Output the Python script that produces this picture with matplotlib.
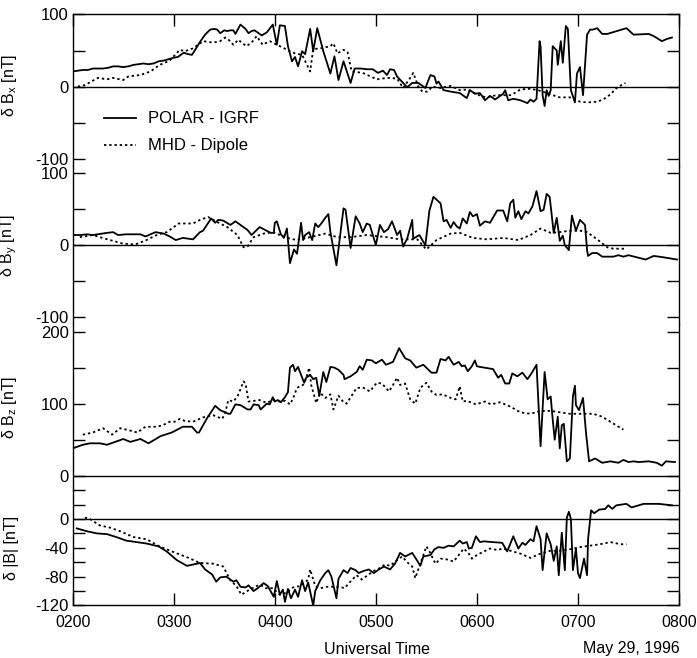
import matplotlib.pyplot as plt
import numpy as np

# time in decimal hours UT, field perturbations in nT
bx_t = [2.00, 2.05, 2.10, 2.15, 2.20, 2.25, 2.30, 2.35, 2.40, 2.45, 2.50, 2.55, 2.60, 2.65, 2.70,
        2.75, 2.80, 2.85, 2.90, 2.95, 3.00, 3.04, 3.07, 3.10, 3.14, 3.18, 3.23, 3.26, 3.31, 3.36,
        3.40, 3.43, 3.46, 3.50, 3.53, 3.56, 3.59, 3.61, 3.66, 3.71, 3.74, 3.77, 3.80, 3.84, 3.87,
        3.92, 3.98, 4.02, 4.05, 4.10, 4.13, 4.17, 4.20, 4.23, 4.27, 4.30, 4.35, 4.38, 4.42, 4.48,
        4.55, 4.59, 4.63, 4.68, 4.75, 4.79, 4.85, 4.91, 4.97, 5.02, 5.07, 5.11, 5.14, 5.18, 5.21,
        5.31, 5.36, 5.42, 5.49, 5.54, 5.58, 5.60, 5.62, 5.67, 5.74, 5.83, 5.90, 5.93, 5.98, 6.03,
        6.08, 6.13, 6.18, 6.23, 6.26, 6.28, 6.31, 6.36, 6.43, 6.50, 6.53, 6.56, 6.59, 6.62, 6.63,
        6.65, 6.67, 6.69, 6.71, 6.73, 6.75, 6.79, 6.80, 6.83, 6.85, 6.88, 6.90, 6.93, 6.97, 6.99,
        7.02, 7.05, 7.09, 7.12, 7.15, 7.19, 7.24, 7.29, 7.48, 7.55, 7.70, 7.75, 7.83, 7.88, 7.93]
bx_polar = [21, 22, 23, 23, 25, 25, 25, 26, 28, 28, 27, 28, 30, 31, 32,
            31, 32, 35, 36, 38, 40, 41, 44, 47, 45, 44, 55, 62, 72, 79,
            80, 79, 74, 78, 77, 78, 78, 73, 86, 80, 74, 77, 78, 74, 71,
            75, 86, 58, 85, 84, 56, 35, 41, 28, 49, 45, 80, 49, 81, 49,
            18, 42, 9, 35, 5, 25, 25, 24, 24, 19, 22, 16, 24, 23, 14,
            -1, 5, 5, -2, 16, 14, 4, 7, -5, -7, -9, -16, -5, -10, -9,
            -19, -13, -18, -13, -10, -5, -19, -17, -19, -23, -18, -21, -17, 63, 56,
            -12, -27, -5, -13, -5, 56, 50, 30, 63, 33, 84, 80, -5, -22, 18,
            27, -12, 72, 79, 79, 81, 73, 73, 81, 72, 73, 70, 63, 66, 68]

bx_mhd_t = [2.05, 2.12, 2.25, 2.34, 2.40, 2.50, 2.55, 2.67, 2.77, 2.86, 2.96, 3.06, 3.11, 3.19,
            3.29, 3.39, 3.46, 3.51, 3.56, 3.59, 3.64, 3.68, 3.72, 3.77, 3.82, 3.88, 3.95, 4.02,
            4.08, 4.15, 4.20, 4.27, 4.35, 4.38, 4.45, 4.55, 4.58, 4.62, 4.68, 4.72, 4.76, 4.87,
            5.01, 5.11, 5.14, 5.21, 5.27, 5.34, 5.37, 5.42, 5.46, 5.51, 5.56, 5.64, 5.74, 5.83,
            5.91, 6.00, 6.09, 6.19, 6.34, 6.43, 6.53, 6.63, 6.73, 6.82, 6.92, 7.02, 7.09, 7.19,
            7.25, 7.32, 7.39, 7.47]
bx_mhd = [0, 2, 12, 10, 12, 9, 14, 16, 21, 30, 36, 51, 49, 53,
          63, 61, 63, 68, 63, 58, 65, 60, 56, 61, 70, 58, 63, 58,
          54, 49, 46, 44, 21, 52, 53, 56, 60, 46, 51, 48, 21, 19,
          10, 12, 12, 11, -2, 12, 19, 0, -7, -7, 0, -2, 1, -5,
          -4, -11, -15, -12, -12, -4, -3, -6, -11, -15, -15, -21, -22, -21,
          -18, -11, -1, 5]

by_t = [2.00, 2.08, 2.14, 2.20, 2.34, 2.40, 2.45, 2.53, 2.60, 2.67, 2.72, 2.82, 2.90, 2.96,
        3.02, 3.09, 3.19, 3.26, 3.29, 3.37, 3.41, 3.44, 3.49, 3.56, 3.61, 3.66, 3.73, 3.77,
        3.85, 3.92, 3.96, 3.99, 4.00, 4.02, 4.06, 4.09, 4.12, 4.15, 4.19, 4.22, 4.26, 4.28,
        4.30, 4.34, 4.37, 4.40, 4.43, 4.46, 4.50, 4.53, 4.55, 4.61, 4.65, 4.68, 4.70, 4.75,
        4.80, 4.84, 4.87, 4.91, 4.94, 5.00, 5.04, 5.08, 5.12, 5.16, 5.21, 5.24, 5.27, 5.31,
        5.36, 5.37, 5.43, 5.49, 5.53, 5.57, 5.64, 5.67, 5.70, 5.74, 5.77, 5.80, 5.83, 5.86,
        5.90, 5.93, 5.96, 6.00, 6.03, 6.08, 6.13, 6.20, 6.26, 6.30, 6.33, 6.36, 6.38, 6.41,
        6.44, 6.48, 6.51, 6.55, 6.59, 6.63, 6.66, 6.69, 6.72, 6.76, 6.79, 6.82, 6.85, 6.87,
        6.91, 6.94, 6.98, 7.02, 7.07, 7.09, 7.10, 7.14, 7.19, 7.24, 7.35, 7.40, 7.45, 7.50,
        7.67, 7.75, 7.85, 7.98]
by_polar = [14, 14, 15, 14, 17, 18, 14, 15, 15, 15, 12, 18, 16, 12,
            7, 10, 8, 18, 20, 37, 31, 35, 34, 28, 33, 28, 21, 14,
            25, 20, 17, 17, 31, 33, 15, 10, 23, -25, -6, -12, 31, 7,
            14, 18, 7, 30, 25, 30, 38, 43, 18, -28, 17, 51, 49, -4,
            40, 30, 18, 30, 28, 0, 28, 18, 22, 33, 14, 20, -2, 9,
            35, 9, 14, 0, 48, 67, 58, 33, 35, 24, 32, 26, 23, 37,
            30, 46, 40, 43, 27, 33, 31, 48, 48, 33, 58, 63, 38, 47,
            36, 47, 44, 54, 75, 47, 49, 71, 67, 17, 38, 6, 13, 0,
            -7, 41, 20, 35, 28, -7, -15, -11, -11, -16, -16, -14, -16, -14,
            -20, -15, -17, -20]

by_mhd_t = [2.07, 2.20, 2.27, 2.37, 2.50, 2.62, 2.73, 2.83, 2.93, 3.05, 3.19, 3.26, 3.34, 3.43,
            3.53, 3.63, 3.69, 3.73, 3.79, 3.89, 3.98, 4.05, 4.15, 4.22, 4.35, 4.50, 4.62, 4.75,
            4.91, 5.11, 5.24, 5.41, 5.50, 5.60, 5.74, 5.83, 5.96, 6.10, 6.26, 6.41, 6.53, 6.63,
            6.73, 6.82, 6.92, 7.02, 7.09, 7.19, 7.29, 7.35, 7.47]
by_mhd = [11, 14, 11, 7, 2, 1, 7, 14, 18, 30, 30, 35, 39, 32,
          25, 14, -3, -2, 11, 16, 18, 14, 9, 7, 11, 16, 11, 11,
          14, 11, 8, 8, -6, 7, 16, 17, 10, 8, 10, 7, 14, 23,
          17, 18, 20, 20, 18, 8, -3, -5, -5]

bz_t = [2.00, 2.10, 2.17, 2.27, 2.34, 2.40, 2.50, 2.57, 2.67, 2.75, 2.87, 2.98, 3.09, 3.18,
        3.23, 3.25, 3.33, 3.41, 3.46, 3.54, 3.56, 3.61, 3.66, 3.73, 3.76, 3.79, 3.84, 3.86,
        3.92, 3.95, 3.98, 4.00, 4.03, 4.06, 4.10, 4.13, 4.15, 4.18, 4.20, 4.23, 4.29, 4.31,
        4.35, 4.38, 4.41, 4.44, 4.48, 4.51, 4.55, 4.59, 4.63, 4.68, 4.69, 4.75, 4.81, 4.84,
        4.87, 4.91, 4.96, 5.00, 5.06, 5.10, 5.17, 5.23, 5.29, 5.34, 5.40, 5.47, 5.55, 5.60,
        5.64, 5.69, 5.72, 5.77, 5.82, 5.85, 5.88, 5.91, 5.95, 5.98, 6.00, 6.03, 6.16, 6.21,
        6.24, 6.28, 6.32, 6.35, 6.40, 6.45, 6.50, 6.54, 6.59, 6.63, 6.67, 6.70, 6.73, 6.75,
        6.77, 6.80, 6.82, 6.84, 6.86, 6.89, 6.92, 6.95, 6.97, 6.98, 7.01, 7.05, 7.08, 7.11,
        7.17, 7.24, 7.32, 7.40, 7.45, 7.50, 7.55, 7.60, 7.70, 7.78, 7.83, 7.87, 7.96]
bz_polar = [38, 43, 45, 45, 43, 46, 51, 47, 51, 45, 55, 60, 68, 68,
            60, 60, 80, 97, 91, 86, 86, 99, 98, 92, 92, 99, 98, 92,
            100, 99, 109, 103, 105, 102, 109, 116, 150, 154, 145, 151, 129, 136,
            140, 134, 136, 111, 144, 130, 151, 150, 147, 140, 134, 138, 144, 152,
            147, 161, 160, 156, 161, 154, 158, 177, 163, 160, 150, 154, 143, 143,
            162, 160, 165, 154, 158, 152, 153, 145, 152, 160, 152, 151, 148, 136,
            140, 128, 128, 142, 138, 143, 134, 142, 154, 41, 144, 106, 110, 78,
            50, 82, 38, 70, 72, 20, 24, 110, 125, 98, 91, 108, 59, 20,
            24, 18, 20, 18, 22, 19, 20, 19, 20, 18, 14, 20, 19]

bz_mhd_t = [2.10, 2.20, 2.30, 2.39, 2.47, 2.56, 2.64, 2.72, 2.83, 2.89, 2.96, 3.01, 3.06, 3.11,
            3.19, 3.29, 3.39, 3.48, 3.51, 3.54, 3.59, 3.63, 3.66, 3.69, 3.71, 3.74, 3.85, 3.92,
            3.98, 4.05, 4.10, 4.15, 4.18, 4.22, 4.28, 4.31, 4.34, 4.36, 4.41, 4.45, 4.50, 4.55,
            4.58, 4.63, 4.68, 4.71, 4.76, 4.81, 4.88, 4.94, 5.01, 5.06, 5.13, 5.17, 5.21, 5.24,
            5.29, 5.34, 5.39, 5.44, 5.50, 5.55, 5.60, 5.66, 5.74, 5.79, 5.83, 5.86, 5.90, 5.99,
            6.08, 6.14, 6.23, 6.33, 6.43, 6.53, 6.63, 6.73, 6.82, 6.92, 7.02, 7.15, 7.24, 7.32,
            7.39, 7.45]
bz_mhd = [57, 60, 66, 57, 66, 63, 60, 68, 68, 70, 75, 75, 79, 76,
          75, 81, 84, 79, 88, 105, 103, 110, 120, 131, 128, 103, 105, 101,
          105, 103, 104, 99, 107, 122, 126, 135, 150, 126, 101, 115, 108, 113,
          92, 111, 102, 100, 111, 122, 122, 117, 129, 128, 117, 126, 136, 126,
          128, 106, 100, 122, 129, 117, 112, 113, 108, 106, 124, 103, 104, 99,
          103, 99, 102, 96, 88, 86, 90, 90, 88, 86, 86, 86, 82, 75,
          69, 64]

bt_t = [2.04, 2.14, 2.24, 2.34, 2.43, 2.53, 2.63, 2.73, 2.85, 2.93, 3.03, 3.13, 3.23, 3.26,
        3.31, 3.38, 3.42, 3.46, 3.52, 3.59, 3.62, 3.66, 3.71, 3.74, 3.79, 3.83, 3.89, 3.93,
        3.99, 4.02, 4.05, 4.08, 4.10, 4.13, 4.16, 4.20, 4.23, 4.27, 4.30, 4.33, 4.38, 4.40,
        4.45, 4.50, 4.53, 4.56, 4.61, 4.63, 4.68, 4.72, 4.75, 4.80, 4.83, 4.88, 4.93, 4.98,
        5.03, 5.08, 5.14, 5.19, 5.24, 5.29, 5.36, 5.41, 5.44, 5.47, 5.54, 5.58, 5.62, 5.67,
        5.72, 5.77, 5.83, 5.86, 5.90, 5.92, 5.95, 5.99, 6.03, 6.07, 6.15, 6.25, 6.30, 6.36,
        6.41, 6.45, 6.48, 6.53, 6.56, 6.59, 6.63, 6.65, 6.69, 6.73, 6.76, 6.79, 6.81, 6.84,
        6.87, 6.89, 6.91, 6.93, 6.95, 6.98, 7.00, 7.02, 7.06, 7.09, 7.10, 7.13, 7.16, 7.21,
        7.27, 7.30, 7.34, 7.38, 7.48, 7.53, 7.65, 7.80, 7.93]
bt_polar = [-13, -17, -20, -21, -25, -30, -32, -34, -38, -45, -57, -65, -62, -61,
            -70, -77, -87, -81, -80, -87, -85, -94, -95, -92, -100, -96, -89, -93,
            -108, -86, -105, -98, -115, -97, -110, -98, -108, -85, -100, -88, -120, -100,
            -85, -75, -71, -80, -110, -83, -71, -75, -68, -71, -75, -72, -70, -75,
            -70, -66, -70, -62, -47, -52, -47, -58, -65, -52, -50, -42, -39, -40,
            -37, -38, -30, -34, -32, -41, -40, -24, -32, -31, -32, -33, -45, -24,
            -41, -33, -36, -28, -31, -10, -28, -71, -20, -35, -58, -38, -78, -19,
            -71, 2, 10, 0, -71, -41, -75, -82, -55, -78, -28, 12, 8, 13,
            14, 19, 14, 19, 21, 16, 21, 21, 19]

bt_mhd_t = [2.12, 2.17, 2.27, 2.37, 2.47, 2.60, 2.73, 2.86, 3.00, 3.13, 3.26, 3.39, 3.49, 3.56,
            3.62, 3.67, 3.75, 3.85, 3.91, 3.98, 4.05, 4.12, 4.18, 4.25, 4.30, 4.33, 4.35, 4.40,
            4.45, 4.52, 4.64, 4.69, 4.76, 4.81, 4.86, 4.91, 4.98, 5.04, 5.09, 5.14, 5.21, 5.26,
            5.31, 5.36, 5.39, 5.42, 5.47, 5.50, 5.53, 5.59, 5.64, 5.70, 5.77, 5.82, 5.87, 5.92,
            5.95, 6.00, 6.07, 6.13, 6.20, 6.26, 6.33, 6.43, 6.53, 6.63, 6.73, 6.82, 6.92, 7.02,
            7.12, 7.22, 7.32, 7.42, 7.48]
bt_mhd = [2, 0, -9, -12, -17, -25, -28, -38, -46, -53, -61, -62, -66, -85,
          -93, -105, -98, -91, -96, -96, -105, -102, -95, -93, -88, -84, -70, -93,
          -96, -94, -94, -96, -85, -78, -84, -79, -72, -68, -63, -65, -57, -52,
          -60, -66, -82, -70, -50, -38, -45, -62, -55, -56, -59, -50, -41, -48,
          -55, -50, -45, -41, -43, -41, -44, -48, -54, -48, -44, -44, -42, -39,
          -37, -35, -32, -35, -35]

hour_ticks = [2, 3, 4, 5, 6, 7, 8]
hour_labels = ["0200", "0300", "0400", "0500", "0600", "0700", "0800"]

plt.rcParams['font.family'] = ['Liberation Sans', 'DejaVu Sans']
plt.rcParams['mathtext.fontset'] = 'custom'
plt.rcParams['mathtext.rm'] = 'Liberation Sans'
plt.rcParams['font.size'] = 11

fig = plt.figure(figsize=(6.97, 6.58), dpi=100)
gs = fig.add_gridspec(4, 1, height_ratios=[210, 220, 230, 160], hspace=0,
                      left=0.1043, right=0.9742, top=0.978, bottom=0.0798)
ax1 = fig.add_subplot(gs[0])
axes = [ax1] + [fig.add_subplot(gs[i], sharex=ax1) for i in range(1, 4)]

panels = [
    (bx_t, bx_polar, bx_mhd_t, bx_mhd, (-110, 100), [-100, -50, 0, 50, 100],
     ["-100", "", "0", "", "100"], r"δ B$_\mathrm{x}$ [nT]", 0.53),
    (by_t, by_polar, by_mhd_t, by_mhd, (-110, 110), [-100, -50, 0, 50, 100],
     ["-100", "", "0", "", "100"], r"δ B$_\mathrm{y}$ [nT]", 0.5),
    (bz_t, bz_polar, bz_mhd_t, bz_mhd, (-20, 210), [0, 50, 100, 150, 200],
     ["0", "", "100", "", "200"], r"δ B$_\mathrm{z}$ [nT]", 0.5),
    (bt_t, bt_polar, bt_mhd_t, bt_mhd, (-120, 40), [-120, -100, -80, -60, -40, -20, 0, 20, 40],
     ["-120", "", "-80", "", "-40", "", "0", "", ""], "δ |B| [nT]", 0.5),
]

for i, (ax, p) in enumerate(zip(axes, panels)):
    t1, v1, t2, v2, ylim, yt, ytl, ylab, ly = p
    ax.plot(t1, v1, color="black", lw=1.3, label="POLAR - IGRF")
    ax.plot(t2, v2, color="black", lw=1.3, ls=(0, (1.3, 1.6)), label="MHD - Dipole")
    ax.axhline(0, color="black", lw=1.0)
    ax.set_ylim(*ylim)
    ax.set_yticks(yt)
    ax.set_yticklabels(ytl)
    ax.set_ylabel(ylab, fontsize=11.5)
    ax.yaxis.set_label_coords(-0.088, ly)
    ax.tick_params(axis="y", direction="in", length=8.5, width=1.0, left=True, right=True,
                   labelsize=12, pad=3)
    for s in ax.spines.values():
        s.set_linewidth(1.0)
    if i != 0:
        ax.spines["top"].set_visible(False)
    if i != 3:
        ax.spines["bottom"].set_visible(False)
    ax.tick_params(axis="x", direction="in", length=8.5, width=1.0,
                   top=(i == 0), bottom=(i == 3), labelbottom=(i == 3), labeltop=False,
                   labelsize=11.5, pad=7)

ax1.set_xlim(2, 8)
ax1.set_xticks(hour_ticks)
axes[3].set_xticklabels(hour_labels)

ax1.legend(loc="upper left", bbox_to_anchor=(0.0516, 0.36), frameon=False, borderpad=0,
           borderaxespad=0, handlelength=1.9, handletextpad=0.75, labelspacing=0.72,
           fontsize=12)

fig.text(377 / 697, 1 - 649 / 658, "Universal Time", ha="center", va="center", fontsize=11.5)
fig.text(680 / 697, 1 - 649 / 658, "May 29, 1996", ha="right", va="center", fontsize=11.5)

fig.savefig("out.png", dpi=100)
